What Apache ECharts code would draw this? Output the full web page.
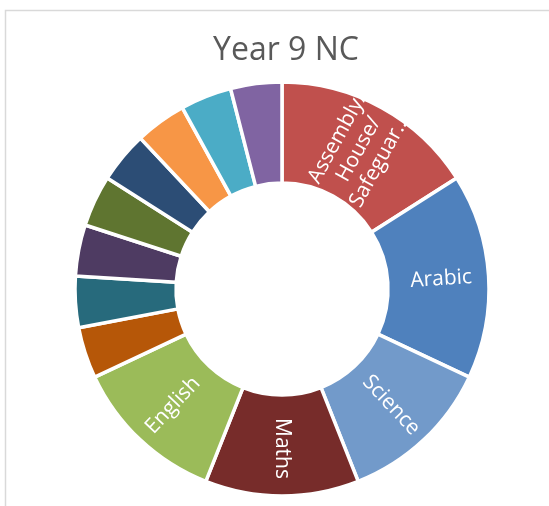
<!DOCTYPE html>
<html>
<head>
<meta charset="utf-8">
<script src="https://cdn.jsdelivr.net/npm/echarts@6/dist/echarts.min.js"></script>
<style>
html,body{margin:0;padding:0;background:#fff;}
#c{width:549px;height:506px;}
</style>
</head>
<body>
<div id="c"></div>
<script>
var chartTitle = 'Year 9 NC';
var categories = ['Assembly/ House/ Safeguarding', 'Arabic', 'Science', 'Maths', 'English',
  'Geography', 'History', 'Computing', 'Art', 'PE', 'Music', 'RE', 'French'];
var labelTexts = ['Assembly/\nHouse/\nSafeguar\u2026', 'Arabic', 'Science', 'Maths', 'English',
  '', '', '', '', '', '', '', ''];
var values = [4, 4, 3, 3, 3, 1, 1, 1, 1, 1, 1, 1, 1];
var colors = ['#C0504D', '#4F81BD', '#729ACA', '#772C2A', '#9BBB59',
  '#B65708', '#276A7C', '#4E3B62', '#5F7530', '#2C4D75', '#F79646', '#4BACC6', '#8064A2'];

var total = values.reduce(function (a, b) { return a + b; }, 0);
var cum = 0;
var data = categories.map(function (name, i) {
  var mid = (cum + values[i] / 2) / total * 360; // clockwise from top
  cum += values[i];
  var rot = 90 - mid;
  if (rot < -90) rot += 180;
  return {
    name: name,
    value: values[i],
    itemStyle: { color: colors[i] },
    label: {
      show: labelTexts[i] !== '',
      rotate: rot,
      formatter: labelTexts[i] || ' '
    }
  };
});

var chart = echarts.init(document.getElementById('c'), null, { renderer: 'canvas' });
chart.setOption({
  animation: false,
  backgroundColor: '#ffffff',
  graphic: [{
    type: 'polyline',
    shape: { points: [[5.5, 506], [5.5, 10.5], [549, 10.5]] },
    style: { stroke: '#d9d9d9', lineWidth: 1.5, fill: null },
    silent: true
  }],
  title: {
    text: chartTitle,
    left: 281,
    textAlign: 'center',
    top: 30,
    textStyle: { fontFamily: 'Open Sans', fontSize: 32, fontWeight: 'normal', color: '#595959' }
  },
  series: [{
    type: 'pie',
    center: [282, 289],
    radius: [106, 207],
    startAngle: 90,
    clockwise: true,
    avoidLabelOverlap: false,
    data: data,
    itemStyle: { borderColor: '#ffffff', borderWidth: 3.5 },
    label: {
      position: 'inside',
      color: '#ffffff',
      fontFamily: 'Open Sans',
      fontSize: 21,
      lineHeight: 24,
      align: 'center'
    },
    labelLine: { show: false },
    emphasis: { disabled: true }
  }]
});
</script>
</body>
</html>
